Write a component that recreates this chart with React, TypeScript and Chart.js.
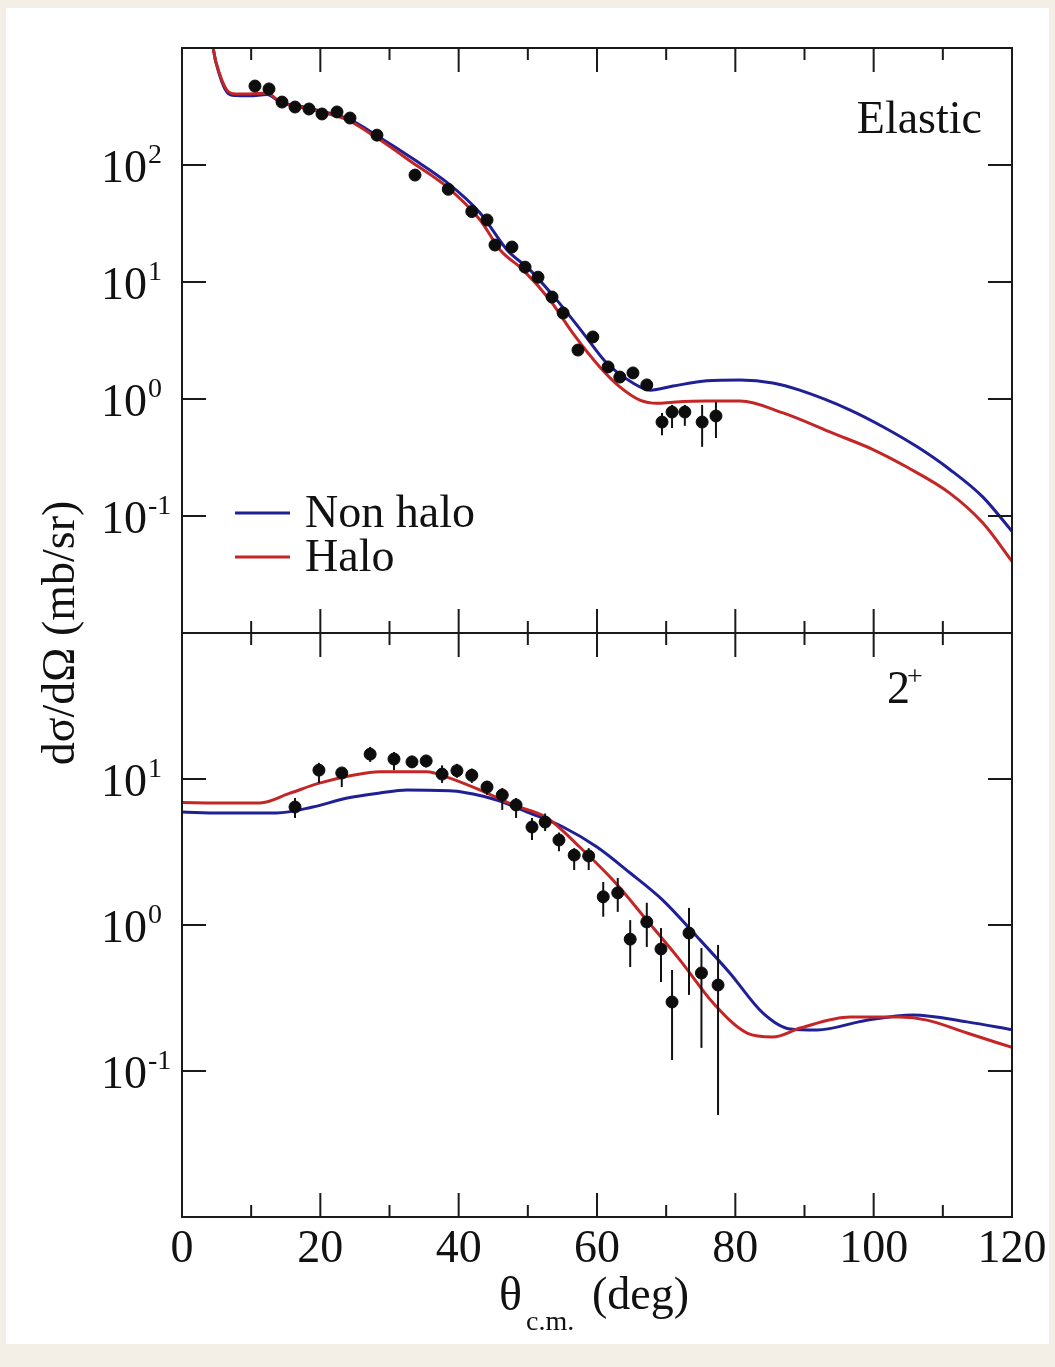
import React, { useEffect, useRef } from "react";
import { Chart, registerables } from "chart.js";

Chart.register(...registerables);

const W = 1055;
const H = 1367;
const FONT = '"Liberation Serif", "Times New Roman", serif';
const BLUE = "#1f1f96";
const RED = "#c42626";
const INK = "#1a1a1a";

// ---------- Elastic panel (top) ----------
const elasticNonHaloTheta = [4.2, 4.5, 5.5, 6.5, 7.7, 9.8, 12.3, 14.2, 17.1, 20.0, 23.9, 28.6, 33.4, 38.3, 43.1, 47.0, 50.3, 54.2, 58.0, 61.4, 65.2, 67.7, 71.0, 75.9, 80.7, 85.4, 89.3, 96.6, 101.4, 106.3, 111.0, 115.8, 120];
const elasticNonHaloSigma = [1500, 1000, 570, 420, 392, 390, 400, 345, 318, 290, 250, 172, 113, 71, 38.9, 18.8, 12.7, 7.0, 3.66, 2.03, 1.37, 1.19, 1.29, 1.43, 1.45, 1.37, 1.19, 0.805, 0.577, 0.39, 0.25, 0.145, 0.074];

const elasticHaloTheta = [4.2, 4.5, 5.5, 6.5, 7.7, 9.8, 12.3, 14.2, 17.1, 20.0, 23.9, 28.6, 33.4, 38.3, 43.1, 46.0, 49.3, 53.2, 56.5, 60.4, 63.3, 66.2, 68.7, 71.0, 75.9, 80.7, 86.9, 94.1, 99.9, 104.8, 111.0, 115.8, 120];
const elasticHaloSigma = [1500, 1000, 588, 437, 405, 405, 412, 345, 313, 284, 243, 164, 104, 64.9, 33.9, 18.8, 12.7, 7.0, 3.66, 1.88, 1.27, 0.98, 0.92, 0.94, 0.96, 0.96, 0.76, 0.51, 0.37, 0.262, 0.157, 0.087, 0.041];

const elasticDataTheta = [10.55, 12.58, 14.46, 16.34, 18.36, 20.24, 22.41, 24.29, 28.19, 33.69, 38.5, 41.9, 44.1, 45.25, 47.7, 49.6, 51.47, 53.5, 55.1, 57.25, 59.4, 61.6, 63.3, 65.2, 67.2, 69.4, 70.85, 72.7, 75.2, 77.2];
const elasticDataSigma = [473, 447, 345, 313, 301, 273, 284, 252, 180, 82, 62, 40, 33.9, 20.7, 19.9, 13.4, 11.0, 7.44, 5.43, 2.62, 3.39, 1.88, 1.54, 1.67, 1.32, 0.635, 0.774, 0.774, 0.635, 0.716];
const elasticDataLow = [445, 420, 325, 295, 283, 257, 267, 237, 169, 77, 58, 37.6, 31.9, 19.5, 18.7, 12.6, 10.3, 7.0, 5.1, 2.46, 3.19, 1.77, 1.45, 1.57, 1.24, 0.49, 0.565, 0.59, 0.39, 0.464];
const elasticDataHigh = [501, 474, 366, 332, 319, 289, 301, 267, 191, 87, 66, 42.4, 35.9, 21.9, 21.1, 14.2, 11.7, 7.9, 5.76, 2.78, 3.59, 1.99, 1.63, 1.77, 1.4, 0.76, 0.89, 0.89, 0.89, 0.94];

// ---------- 2+ panel (bottom) ----------
const inelNonHaloTheta = [0, 5.5, 13.7, 18.9, 23.9, 28.6, 32.5, 39.2, 42.1, 45.5, 50.3, 55.1, 60.0, 64.8, 69.5, 74.5, 79.2, 84.0, 87.9, 91.8, 99.0, 105.7, 113.5, 120];
const inelNonHaloSigma = [5.94, 5.85, 5.85, 6.43, 7.41, 8.02, 8.41, 8.28, 7.89, 7.18, 5.85, 4.69, 3.42, 2.27, 1.48, 0.828, 0.469, 0.249, 0.194, 0.191, 0.223, 0.242, 0.217, 0.192];

const inelHaloTheta = [0, 5, 11.3, 15.6, 20.0, 24.7, 28.6, 35.4, 38.3, 43.1, 47.9, 52.8, 57.5, 62.3, 67.2, 72.0, 76.8, 81.7, 85.4, 89.4, 96.6, 103.8, 107.7, 113.5, 120];
const inelHaloSigma = [6.9, 6.85, 6.85, 8.0, 9.4, 10.6, 11.2, 11.2, 10.3, 8.4, 6.64, 5.41, 3.42, 2.03, 1.08, 0.575, 0.292, 0.182, 0.171, 0.197, 0.234, 0.234, 0.223, 0.182, 0.145];

const inelDataTheta = [16.34, 19.8, 23.1, 27.2, 30.65, 33.25, 35.3, 37.6, 39.75, 41.9, 44.1, 46.3, 48.3, 50.6, 52.5, 54.5, 56.7, 58.8, 60.9, 63.0, 64.8, 67.2, 69.25, 70.85, 73.3, 75.1, 77.5];
const inelDataSigma = [6.43, 11.5, 11.0, 14.8, 13.7, 13.1, 13.3, 10.8, 11.4, 10.6, 8.81, 7.77, 6.64, 4.69, 5.07, 3.82, 3.01, 2.97, 1.56, 1.66, 0.80, 1.05, 0.685, 0.297, 0.881, 0.469, 0.388];
const inelDataLow = [5.41, 9.4, 8.8, 13.1, 11.5, 11.9, 12.0, 9.4, 10.2, 9.4, 7.8, 6.14, 5.41, 3.82, 4.4, 3.2, 2.38, 2.38, 1.14, 1.23, 0.515, 0.707, 0.407, 0.119, 0.332, 0.144, 0.05];
const inelDataHigh = [7.41, 12.9, 11.9, 16.6, 15.3, 14.4, 14.6, 12.4, 12.7, 11.8, 9.7, 8.67, 7.41, 5.41, 5.8, 4.3, 3.36, 3.36, 1.97, 2.1, 1.08, 1.42, 0.953, 0.492, 1.31, 0.695, 0.73];

// ---------- axes ----------
const xTickValues = [0, 20, 40, 60, 80, 100, 120];
const xMinorValues = [10, 30, 50, 70, 90, 110];
const elasticDecades = [-1, 0, 1, 2];
const inelDecades = [-1, 0, 1];
const legendLabels = ["Non halo", "Halo"];

const pts = (xs: number[], ys: number[]) => xs.map((x, i) => ({ x, y: ys[i] }));

function drawPower(ctx: CanvasRenderingContext2D, x: number, y: number, exp: string) {
  ctx.textAlign = "left";
  ctx.textBaseline = "alphabetic";
  ctx.font = `46px ${FONT}`;
  ctx.fillText("10", x, y + 17);
  const w = ctx.measureText("10").width;
  ctx.font = `28px ${FONT}`;
  ctx.fillText(exp, x + w + 1, y - 2);
}

function makePanelPlugin(kind: "top" | "bottom") {
  return {
    id: "panel-" + kind,
    beforeDatasetDraw(chart: any, args: any) {
      if (args.index !== 0) return;
      const { ctx, scales } = chart;
      const xs = kind === "top" ? elasticDataTheta : inelDataTheta;
      const lo = kind === "top" ? elasticDataLow : inelDataLow;
      const hi = kind === "top" ? elasticDataHigh : inelDataHigh;
      ctx.save();
      ctx.strokeStyle = "#111";
      ctx.lineWidth = 2;
      xs.forEach((t, i) => {
        const px = scales.x.getPixelForValue(t);
        ctx.beginPath();
        ctx.moveTo(px, scales.y.getPixelForValue(lo[i]));
        ctx.lineTo(px, scales.y.getPixelForValue(hi[i]));
        ctx.stroke();
      });
      ctx.restore();
    },
    afterDraw(chart: any) {
      const { ctx, chartArea, scales } = chart;
      const { left, right, top, bottom } = chartArea;
      ctx.save();
      ctx.strokeStyle = INK;
      ctx.fillStyle = "#111";
      ctx.lineWidth = 2;
      ctx.strokeRect(left, top, right - left, bottom - top);
      ctx.beginPath();
      xTickValues.forEach((v) => {
        const px = scales.x.getPixelForValue(v);
        ctx.moveTo(px, top);
        ctx.lineTo(px, top + 24);
        ctx.moveTo(px, bottom);
        ctx.lineTo(px, bottom - 24);
      });
      xMinorValues.forEach((v) => {
        const px = scales.x.getPixelForValue(v);
        ctx.moveTo(px, top);
        ctx.lineTo(px, top + 12);
        ctx.moveTo(px, bottom);
        ctx.lineTo(px, bottom - 12);
      });
      const decades = kind === "top" ? elasticDecades : inelDecades;
      decades.forEach((d) => {
        const py = scales.y.getPixelForValue(Math.pow(10, d));
        ctx.moveTo(left, py);
        ctx.lineTo(left + 24, py);
        ctx.moveTo(right, py);
        ctx.lineTo(right - 24, py);
      });
      ctx.stroke();

      decades.forEach((d) => {
        const py = scales.y.getPixelForValue(Math.pow(10, d));
        drawPower(ctx, 101, py, d < 0 ? "-" + Math.abs(d) : String(d));
      });

      if (kind === "top") {
        ctx.font = `46px ${FONT}`;
        ctx.textAlign = "right";
        ctx.textBaseline = "alphabetic";
        ctx.fillText("Elastic", right - 30, top + 85);
        // legend
        const rows = [
          { label: legendLabels[0], color: BLUE, y: 513 },
          { label: legendLabels[1], color: RED, y: 557 },
        ];
        rows.forEach((r) => {
          ctx.strokeStyle = r.color;
          ctx.lineWidth = 3;
          ctx.beginPath();
          ctx.moveTo(235, r.y);
          ctx.lineTo(290, r.y);
          ctx.stroke();
          ctx.fillStyle = "#111";
          ctx.textAlign = "left";
          ctx.textBaseline = "middle";
          ctx.font = `46px ${FONT}`;
          ctx.fillText(r.label, 305, r.y + 2);
        });
      } else {
        ctx.font = `46px ${FONT}`;
        ctx.textAlign = "left";
        ctx.textBaseline = "alphabetic";
        ctx.fillText("2", 887, top + 70);
        ctx.font = `28px ${FONT}`;
        ctx.fillText("+", 907, top + 52);

        // x tick labels
        ctx.font = `46px ${FONT}`;
        ctx.textAlign = "center";
        xTickValues.forEach((v) => {
          ctx.fillText(String(v), scales.x.getPixelForValue(v), bottom + 45);
        });
        // x title
        ctx.textAlign = "left";
        ctx.font = `48px ${FONT}`;
        ctx.fillText("\u03b8", 499, bottom + 93);
        ctx.font = `28px ${FONT}`;
        ctx.fillText("c.m.", 526, bottom + 113);
        ctx.font = `46px ${FONT}`;
        ctx.fillText("(deg)", 592, bottom + 92);
        // y title
        ctx.save();
        ctx.translate(62, top);
        ctx.rotate(-Math.PI / 2);
        ctx.textAlign = "center";
        ctx.textBaseline = "middle";
        ctx.fillText("d\u03c3/d\u03a9 (mb/sr)", 0, 0);
        ctx.restore();
      }
      ctx.restore();
    },
  };
}

function buildConfig(kind: "top" | "bottom"): any {
  const isTop = kind === "top";
  const line = (xs: number[], ys: number[], color: string) => ({
    data: pts(xs, ys),
    showLine: true,
    borderColor: color,
    backgroundColor: color,
    borderWidth: 3,
    pointRadius: 0,
    cubicInterpolationMode: "monotone",
    clip: 0,
  });
  const dataX = isTop ? elasticDataTheta : inelDataTheta;
  const dataY = isTop ? elasticDataSigma : inelDataSigma;
  return {
    type: "scatter",
    data: {
      datasets: [
        {
          data: pts(dataX, dataY),
          showLine: false,
          pointRadius: 6,
          pointBackgroundColor: "#0d0d0d",
          pointBorderColor: "#0d0d0d",
          pointBorderWidth: 1,
          clip: false,
        },
        line(isTop ? elasticHaloTheta : inelHaloTheta, isTop ? elasticHaloSigma : inelHaloSigma, RED),
        line(isTop ? elasticNonHaloTheta : inelNonHaloTheta, isTop ? elasticNonHaloSigma : inelNonHaloSigma, BLUE),
      ],
    },
    options: {
      responsive: false,
      animation: false,
      devicePixelRatio: 1,
      events: [],
      layout: {
        padding: isTop
          ? { left: 182, right: 43, top: 48, bottom: H - 633 }
          : { left: 182, right: 43, top: 633, bottom: H - 1217 },
      },
      scales: {
        x: { type: "linear", min: 0, max: 120, display: false },
        y: { type: "logarithmic", min: 0.01, max: isTop ? 1000 : 100, display: false },
      },
      plugins: { legend: { display: false }, tooltip: { enabled: false } },
    },
    plugins: [makePanelPlugin(kind)],
  };
}

export default function App() {
  const topRef = useRef<HTMLCanvasElement>(null);
  const botRef = useRef<HTMLCanvasElement>(null);
  useEffect(() => {
    const c1 = new Chart(topRef.current as HTMLCanvasElement, buildConfig("top"));
    const c2 = new Chart(botRef.current as HTMLCanvasElement, buildConfig("bottom"));
    return () => {
      c1.destroy();
      c2.destroy();
    };
  }, []);
  const canvasStyle: React.CSSProperties = { position: "absolute", left: 0, top: 0, width: W, height: H };
  return (
    <div style={{ position: "absolute", left: 0, top: 0, width: W, height: H, background: "#f3efe7", overflow: "hidden" }}>
      <div style={{ position: "absolute", left: 6, top: 8, width: 1043, height: 1336, background: "#ffffff" }} />
      <canvas ref={topRef} width={W} height={H} style={canvasStyle} />
      <canvas ref={botRef} width={W} height={H} style={canvasStyle} />
    </div>
  );
}
